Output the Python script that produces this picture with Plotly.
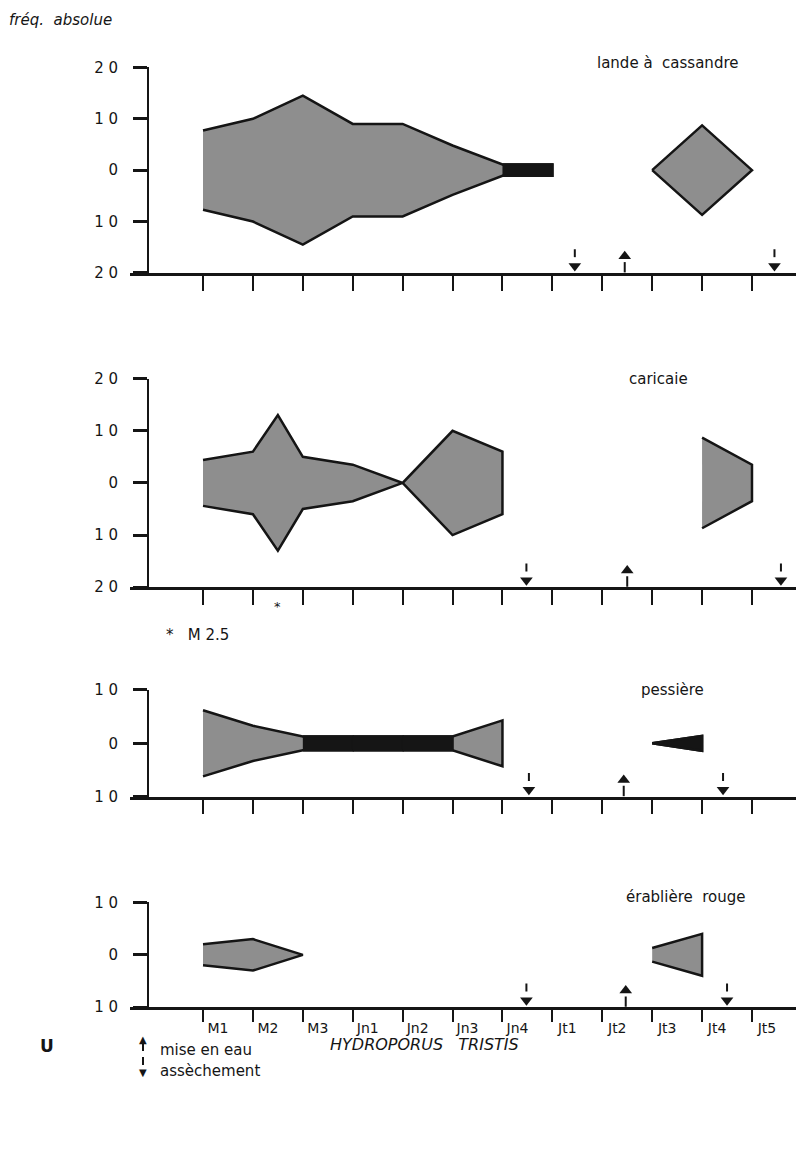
import plotly.graph_objects as go

# measured page mapping of the figure: x_page = 8 + x_fig ; y_page = 15.5 + 0.9865 * y_fig
OFFX, OFFY, SY = 8, 15.5, 0.9865
W, H = 796, 1141

# ---------------- data ----------------
period_pos = list(range(1, 13))
period_labels = ["M1", "M2", "M3", "Jn1", "Jn2", "Jn3", "Jn4", "Jt1", "Jt2", "Jt3", "Jt4", "Jt5"]

# lande à cassandre (half-width = fréquence absolue)
lande_x1 = [1, 2, 3, 4, 5, 6, 7, 8]
lande_v1 = [7.7, 10, 14.5, 9, 9, 4.8, 1.1, 1.1]
lande_x2 = [10, 11, 12]
lande_v2 = [0, 8.7, 0]
lande_down = [8.45, 12.45]
lande_up = [9.45]

# caricaie (2.5 = M2.5)
cari_x1 = [1, 2, 2.5, 3, 4, 5, 6, 7]
cari_v1 = [4.4, 6, 13, 5, 3.5, 0, 10, 6]
cari_x2 = [11, 12]
cari_v2 = [8.7, 3.5]
cari_down = [7.48, 12.58]
cari_up = [9.5]

# pessière
pess_x1 = [1, 2, 3, 4, 5, 6, 7]
pess_v1 = [6.2, 3.3, 1.3, 1.3, 1.3, 1.3, 4.3]
pess_x2 = [10, 11]
pess_v2 = [0, 1.4]
pess_down = [7.53, 11.42]
pess_up = [9.43]

# érablière rouge
erab_x1 = [1, 2, 3]
erab_v1 = [2, 3, 0]
erab_x2 = [10, 11]
erab_v2 = [1.3, 4]
erab_down = [7.48, 11.5]
erab_up = [9.47]

panels = [
    dict(name="lande à  cassandre", lim=20, segs=[(lande_x1, lande_v1), (lande_x2, lande_v2)],
         down=lande_down, up=lande_up, top=66, bottom=272, title_xy=(667, 62)),
    dict(name="caricaie", lim=20, segs=[(cari_x1, cari_v1), (cari_x2, cari_v2)],
         down=cari_down, up=cari_up, top=378, bottom=587, title_xy=(658, 378)),
    dict(name="pessière", lim=10, segs=[(pess_x1, pess_v1), (pess_x2, pess_v2)],
         down=pess_down, up=pess_up, top=690, bottom=797, title_xy=(672, 690)),
    dict(name="érablière  rouge", lim=10, segs=[(erab_x1, erab_v1), (erab_x2, erab_v2)],
         down=erab_down, up=erab_up, top=903, bottom=1008, title_xy=(686, 898)),
]

FONT = "DejaVu Sans"
INK = "#151515"
FILL = "#8e8e8e"
THIN = 1.5  # stretches whose half-width stays below this print as solid dark

def px(x):
    return (x - OFFX) / W

def py(y):
    return 1 - ((y - OFFY) / SY) / H

fig = go.Figure()
layout = {}
annotations = []
shapes = []

x_lo = 1 - (203 - 130) / 49.9
x_hi = 12 + (800 - 752) / 49.9

for i, p in enumerate(panels, start=1):
    xa = f"x{i}"
    ya = f"y{i}"
    lim = p["lim"]
    upp = (p["bottom"] - p["top"]) / (2 * lim) / SY  # figure pixels per unit
    for xs, vs in p["segs"]:
        fig.add_trace(go.Scatter(
            x=list(xs) + list(xs)[::-1],
            y=list(vs) + [-v for v in vs[::-1]],
            fill="toself", fillcolor=FILL, mode="lines",
            line=dict(color=INK, width=2.5),
            xaxis=xa, yaxis=ya, hoverinfo="skip", showlegend=False))
        # thin stretches: solid dark
        for k in range(len(xs) - 1):
            if max(vs[k], vs[k + 1]) <= THIN:
                fig.add_trace(go.Scatter(
                    x=[xs[k], xs[k + 1], xs[k + 1], xs[k]],
                    y=[vs[k], vs[k + 1], -vs[k + 1], -vs[k]],
                    fill="toself", fillcolor=INK, mode="lines",
                    line=dict(color=INK, width=2.5),
                    xaxis=xa, yaxis=ya, hoverinfo="skip", showlegend=False))
    sx, sy = [], []
    for d in p["down"]:
        sx += [d, d, None]
        sy += [-lim + 16 / upp, -lim + 24 / upp, None]
    for u in p["up"]:
        sx += [u, u, None]
        sy += [-lim + 0.5 / upp, -lim + 11 / upp, None]
    fig.add_trace(go.Scatter(x=sx, y=sy, mode="lines", line=dict(color=INK, width=2),
                             xaxis=xa, yaxis=ya, hoverinfo="skip", showlegend=False))
    fig.add_trace(go.Scatter(x=p["down"], y=[-lim + 7 / upp] * len(p["down"]), mode="markers",
                             marker=dict(symbol="triangle-down", size=11, color=INK),
                             xaxis=xa, yaxis=ya, hoverinfo="skip", showlegend=False))
    fig.add_trace(go.Scatter(x=p["up"], y=[-lim + 17 / upp] * len(p["up"]), mode="markers",
                             marker=dict(symbol="triangle-up", size=11, color=INK),
                             xaxis=xa, yaxis=ya, hoverinfo="skip", showlegend=False))

    if lim == 20:
        tv = [20, 10, 0, -10, -20]
        tt = ["2 0", "1 0", "0", "1 0", "2 0"]
    else:
        tv = [10, 0, -10]
        tt = ["1 0", "0", "1 0"]

    key = "" if i == 1 else str(i)
    last = (i == 4)
    layout[f"xaxis{key}"] = dict(
        domain=[px(130), px(800)], range=[x_lo, x_hi], anchor=ya,
        showline=True, linecolor=INK, linewidth=2.5,
        ticks="outside", ticklen=12 if last else 15, tickwidth=2, tickcolor=INK,
        tickvals=period_pos, ticktext=period_labels,
        showticklabels=last, ticklabelshift=15, ticklabelstandoff=-6,
        tickfont=dict(family=FONT, size=14, color=INK),
        showgrid=False, zeroline=False, fixedrange=True)
    layout[f"yaxis{key}"] = dict(
        domain=[py(p["bottom"]), py(p["top"])], range=[-lim, lim],
        anchor="free", position=px(148),
        showline=True, linecolor=INK, linewidth=2,
        ticks="outside", ticklen=14, tickwidth=2.5, tickcolor=INK,
        tickvals=tv, ticktext=tt, ticklabelstandoff=12,
        tickfont=dict(family=FONT, size=15, color=INK),
        showgrid=False, zeroline=False, fixedrange=True)

    tx, ty = p["title_xy"]
    annotations.append(dict(text=p["name"], x=px(tx), y=py(ty), xref="paper", yref="paper",
                            showarrow=False, xanchor="center", yanchor="middle",
                            font=dict(family=FONT, size=15, color=INK)))

annotations += [
    dict(text="fréq.  absolue", x=px(7), y=py(19), xref="paper", yref="paper", showarrow=False,
         xanchor="left", yanchor="middle", font=dict(family=FONT, size=15, color=INK, style="italic")),
    dict(text="*", x=2.5, y=py(606), xref="x2", yref="paper", showarrow=False,
         xanchor="center", yanchor="middle", font=dict(family=FONT, size=13, color=INK)),
    dict(text="*   M 2.5", x=px(164), y=py(635), xref="paper", yref="paper", showarrow=False,
         xanchor="left", yanchor="middle", font=dict(family=FONT, size=15, color=INK)),
    dict(text="<b>U</b>", x=px(38), y=py(1047), xref="paper", yref="paper", showarrow=False,
         xanchor="left", yanchor="middle", font=dict(family=FONT, size=17, color=INK)),
    dict(text="HYDROPORUS   TRISTIS", x=px(328), y=py(1045), xref="paper", yref="paper", showarrow=False,
         xanchor="left", yanchor="middle", font=dict(family=FONT, size=16, color=INK, style="italic")),
    dict(text="mise en eau", x=px(158), y=py(1051), xref="paper", yref="paper", showarrow=False,
         xanchor="left", yanchor="middle", font=dict(family=FONT, size=15, color=INK)),
    dict(text="assèchement", x=px(158), y=py(1072), xref="paper", yref="paper", showarrow=False,
         xanchor="left", yanchor="middle", font=dict(family=FONT, size=15, color=INK)),
    dict(text="▲", x=px(143), y=py(1040), xref="paper", yref="paper", showarrow=False,
         xanchor="center", yanchor="middle", font=dict(family=FONT, size=10, color=INK)),
    dict(text="▼", x=px(143), y=py(1073), xref="paper", yref="paper", showarrow=False,
         xanchor="center", yanchor="middle", font=dict(family=FONT, size=10, color=INK)),
]
shapes += [
    dict(type="line", xref="paper", yref="paper", x0=px(143), x1=px(143), y0=py(1044), y1=py(1052),
         line=dict(color=INK, width=2)),
    dict(type="line", xref="paper", yref="paper", x0=px(143), x1=px(143), y0=py(1058), y1=py(1066),
         line=dict(color=INK, width=2)),
]

fig.update_layout(
    width=W, height=H, margin=dict(l=0, r=0, t=0, b=0),
    paper_bgcolor="white", plot_bgcolor="white",
    showlegend=False, annotations=annotations, shapes=shapes,
    **layout)

fig.write_html("out.html")
